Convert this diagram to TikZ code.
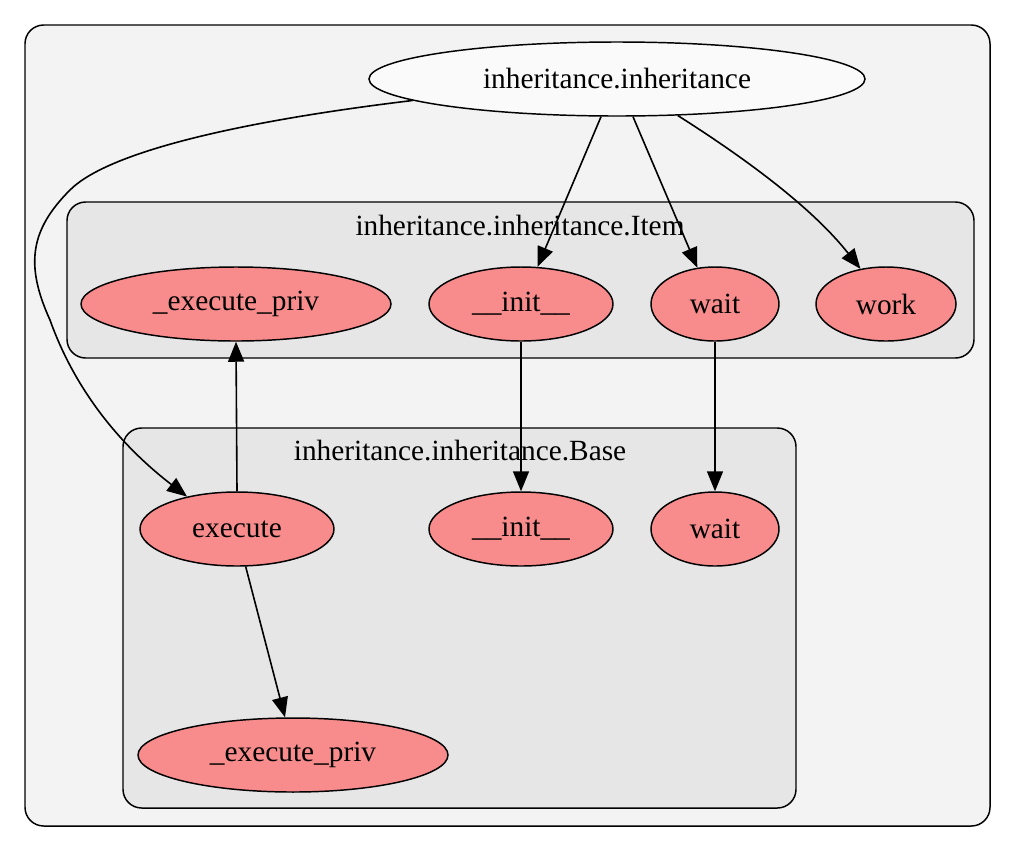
\documentclass[tikz,border=0pt]{standalone}
\usepackage{fontspec}
\setmainfont{Liberation Serif}
\usetikzlibrary{shapes.geometric,arrows.meta}
\definecolor{nodefill}{HTML}{F88C8C}
\definecolor{outerfill}{HTML}{F3F3F3}
\definecolor{innerfill}{HTML}{E6E6E6}
\definecolor{topfill}{HTML}{FAFAFA}
\tikzset{
  cls/.style={draw=black, line width=1.1pt, rounded corners=14pt},
  fn/.style={ellipse, draw=black, line width=1.1pt, fill=nodefill, inner sep=0pt, font=\fontsize{22}{25}\selectfont},
  lbl/.style={font=\fontsize{22}{25}\selectfont, inner sep=0pt},
  edge/.style={draw=black, line width=1.2pt, -{Triangle[length=15pt,width=12pt]}},
}
\begin{document}
\begin{tikzpicture}[x=0.75pt,y=-0.75pt]
\useasboundingbox (0,0) rectangle (1016,851);
% clusters
\draw[cls, fill=outerfill] (25,25) rectangle (990,826);
\draw[cls, fill=innerfill] (67,202) rectangle (974,358);
\draw[cls, fill=innerfill] (123,428) rectangle (796,808);
\node[lbl] (itemlbl) at (520,226) {inheritance.inheritance.Item};
\node[lbl] (baselbl) at (460,451) {inheritance.inheritance.Base};
% nodes
\node[fn, fill=topfill, minimum width=372pt, minimum height=55.5pt] (top) at (617,79) {inheritance.inheritance};
\node[fn, minimum width=232.5pt, minimum height=55.5pt] (iexec) at (236,304) {\_execute\_priv};
\node[fn, minimum width=138pt, minimum height=55.5pt] (iinit) at (521,304) {\_\_init\_\_};
\node[fn, minimum width=96pt, minimum height=55.5pt] (iwait) at (715,304) {wait};
\node[fn, minimum width=105pt, minimum height=55.5pt] (iwork) at (886,304) {work};
\node[fn, minimum width=145.5pt, minimum height=55.5pt] (bexecute) at (237,529) {execute};
\node[fn, minimum width=138pt, minimum height=55.5pt] (binit) at (521,529) {\_\_init\_\_};
\node[fn, minimum width=96pt, minimum height=55.5pt] (bwait) at (715,529) {wait};
\node[fn, minimum width=232.5pt, minimum height=55.5pt] (bexec) at (293,755) {\_execute\_priv};
% edges
\draw[edge] (top.-113) -- (iinit.66);
\draw[edge] (top.-67) -- (iwait.116);
\draw[edge] (top.-31) .. controls (740,155) and (810,205) .. (iwork.126);
\draw[edge] (top.-174) .. controls (250,120) and (110,150) .. (70,190)
  .. controls (30,230) and (25,265) .. (50,320)
  .. controls (75,390) and (120,445) .. (bexecute.147);
\draw[edge] (bexecute.north) -- (iexec.south);
\draw[edge] (iinit.south) -- (binit.north);
\draw[edge] (iwait.south) -- (bwait.north);
\draw[edge] (bexecute.-77) -- (bexec.102);
\end{tikzpicture}
\end{document}
